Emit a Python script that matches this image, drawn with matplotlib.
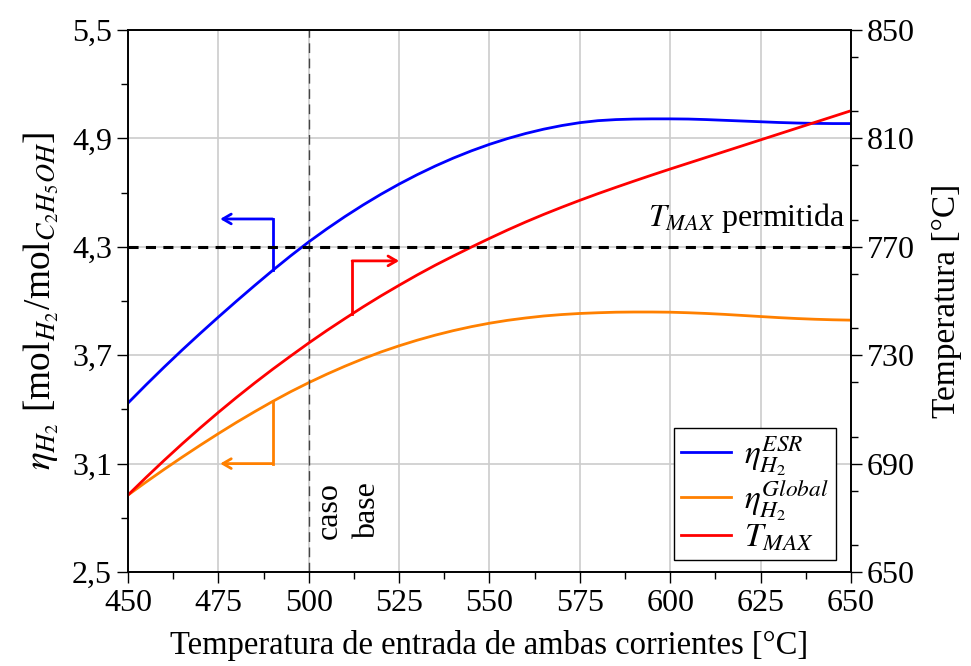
import numpy as np
import matplotlib.pyplot as plt
from matplotlib.ticker import MultipleLocator, FuncFormatter

plt.rcParams['font.family'] = 'serif'
plt.rcParams['font.serif'] = ['Liberation Serif', 'DejaVu Serif']
plt.rcParams['mathtext.fontset'] = 'stix'

# temperatura de entrada [°C]
temp_in = list(range(450, 651, 5))
# rendimiento de H2 del reformador (ESR)
eta_esr = [3.435, 3.536, 3.634, 3.729, 3.821, 3.911, 3.999, 4.085, 4.169,
           4.250, 4.327, 4.399, 4.467, 4.531, 4.591, 4.647, 4.699, 4.747, 4.791, 4.831, 4.867,
           4.899, 4.927, 4.951, 4.971, 4.987, 4.998, 5.004, 5.007, 5.008, 5.008,
           5.007, 5.004, 5.000, 4.996, 4.992, 4.988, 4.985, 4.983, 4.982, 4.982]
# rendimiento global de H2
eta_global = [2.926, 2.998, 3.068, 3.136, 3.202, 3.266, 3.328, 3.387, 3.444,
              3.498, 3.548, 3.595, 3.639, 3.680, 3.718, 3.752, 3.783, 3.811, 3.836, 3.858, 3.877,
              3.893, 3.906, 3.917, 3.925, 3.931, 3.935, 3.938, 3.939, 3.939, 3.938,
              3.935, 3.931, 3.926, 3.920, 3.914, 3.908, 3.903, 3.899, 3.896, 3.894]
# temperatura maxima [°C]
t_max = [678.4, 684.9, 691.2, 697.3, 703.2, 708.9, 714.4, 719.7, 724.8,
         729.7, 734.5, 739.1, 743.5, 747.8, 751.9, 755.8, 759.6, 763.2, 766.6, 769.9, 773.1,
         776.2, 779.15, 781.95, 784.6, 787.15, 789.6, 791.95, 794.25, 796.5, 798.7,
         800.85, 803.0, 805.15, 807.3, 809.45, 811.6, 813.75, 815.9, 818.05, 820.2]

t_permitida = 770
caso_base = 500

fig = plt.figure(figsize=(9.71, 6.66), dpi=100)
ax = fig.add_axes([0.1318, 0.1411, 0.7446, 0.8139])
ax2 = ax.twinx()

l1, = ax.plot(temp_in, eta_esr, color='#0000ff', lw=2, label=r'$\eta_{H_2}^{ESR}$')
l2, = ax.plot(temp_in, eta_global, color='#ff8000', lw=2, label=r'$\eta_{H_2}^{Global}$')
l3, = ax2.plot(temp_in, t_max, color='#ff0000', lw=2, label=r'$T_{MAX}$')

ax2.axhline(t_permitida, color='k', lw=2.2, ls=(0, (3.3, 2.4)))
ax.axvline(caso_base, color='#444444', lw=1, ls=(0, (7, 4)))

ax.set_xlim(450, 650)
ax.set_ylim(2.5, 5.5)
ax2.set_ylim(650, 850)

ax.set_xticks(np.arange(450, 651, 25))
ax.xaxis.set_minor_locator(MultipleLocator(12.5))
ax.set_yticks([2.5, 3.1, 3.7, 4.3, 4.9, 5.5])
ax.set_yticks([2.8, 3.4, 4.0, 4.6, 5.2], minor=True)
ax.yaxis.set_major_formatter(FuncFormatter(lambda v, p: f'{v:.1f}'.replace('.', ',')))
ax2.set_yticks(np.arange(650, 851, 40))
ax2.yaxis.set_minor_locator(MultipleLocator(20))

ax.grid(True, which='major', color='#cccccc', lw=1.2)
ax.set_axisbelow(True)

for a in (ax, ax2):
    a.tick_params(which='major', direction='out', length=8, width=1, labelsize=23)
    a.tick_params(which='minor', direction='out', length=5, width=1)
    for s in a.spines.values():
        s.set_linewidth(1.2)
ax.tick_params(axis='x', pad=4)

ax.set_xlabel('Temperatura de entrada de ambas corrientes [°C]', fontsize=23.5, labelpad=9)
ax.set_ylabel(r'$\eta_{H_2}$ [mol$_{H_2}$/mol$_{C_2H_5OH}$]', fontsize=27, labelpad=8)
ax2.set_ylabel('Temperatura [°C]', fontsize=24, labelpad=12)

# flechas que indican el eje de cada curva
arrow = dict(arrowstyle='->,head_length=0.6,head_width=0.35', lw=2, shrinkA=0, shrinkB=0)

x0 = 490
y0 = np.interp(x0, temp_in, eta_esr)
ax.plot([x0, x0], [y0, 4.454], color='#0000ff', lw=2)
ax.annotate('', xy=(475.5, 4.454), xytext=(x0, 4.454), arrowprops=dict(arrow, color='#0000ff'))

y0 = np.interp(x0, temp_in, eta_global)
ax.plot([x0, x0], [y0, 3.1], color='#ff8000', lw=2)
ax.annotate('', xy=(475.5, 3.1), xytext=(x0, 3.1), arrowprops=dict(arrow, color='#ff8000'))

x1 = 512
y1 = np.interp(x1, temp_in, t_max)
ax2.plot([x1, x1], [y1, 764.8], color='#ff0000', lw=2)
ax2.annotate('', xy=(525, 764.8), xytext=(x1, 764.8), arrowprops=dict(arrow, color='#ff0000'))

ax.text(648.5, 4.46, r'$T_{MAX}$ permitida', ha='right', va='center', fontsize=23)
ax.text(511, 2.84, 'caso\nbase', rotation=90, ha='center', va='center', fontsize=23,
        linespacing=1.45)

ax2.legend(handles=[l1, l2, l3], loc='lower right', bbox_to_anchor=(0.979, 0.022),
           borderaxespad=0, fontsize=24, fancybox=False, edgecolor='k', framealpha=1,
           handlelength=1.5, labelspacing=0.0, borderpad=0.2, handletextpad=0.4)

fig.savefig('out.png', dpi=100)
